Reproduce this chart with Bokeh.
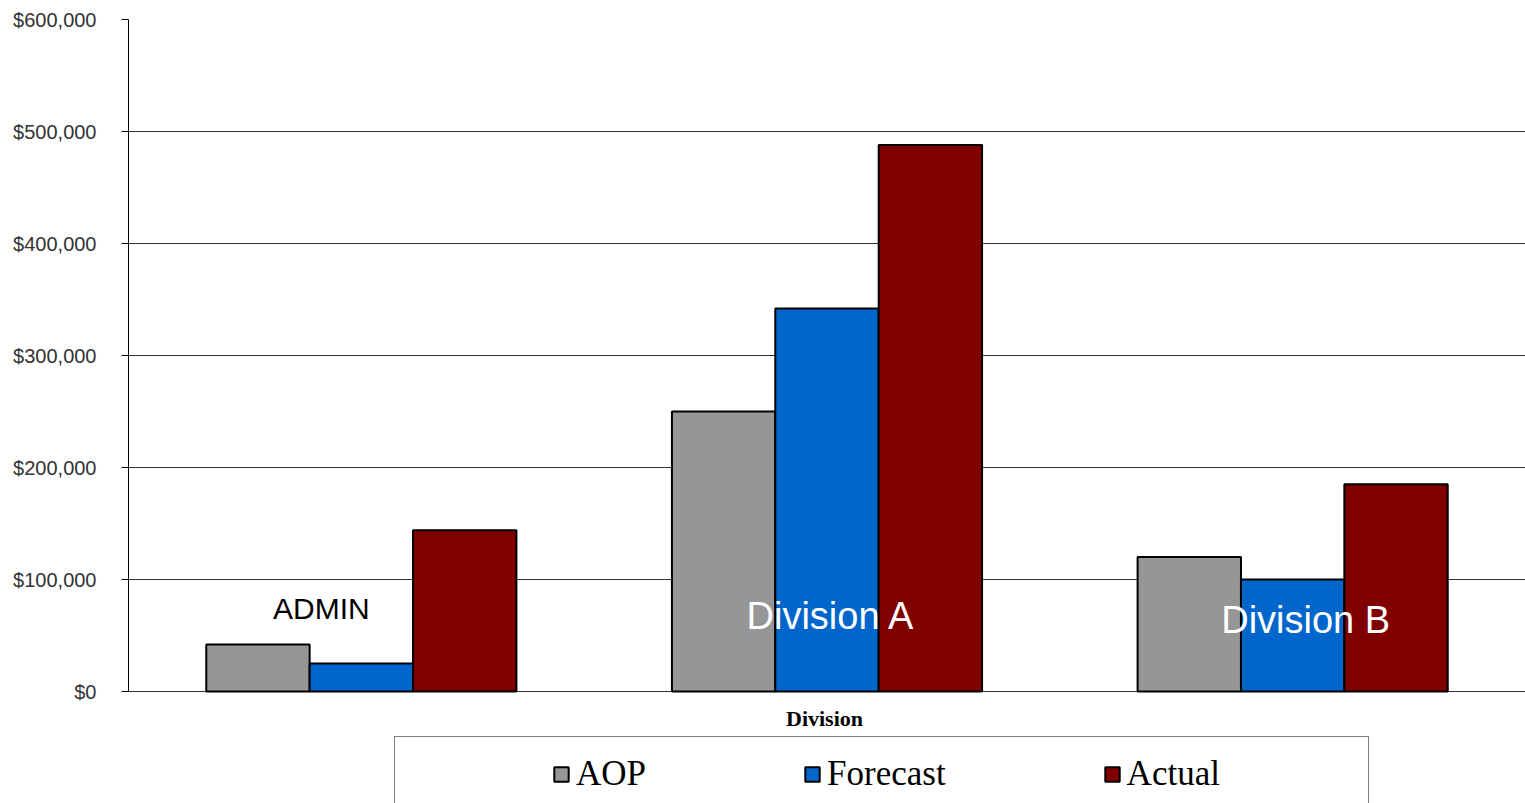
from bokeh.plotting import figure
from bokeh.models import (ColumnDataSource, FactorRange, Range1d, FixedTicker,
                          NumeralTickFormatter, Legend, LegendItem, Label)
from bokeh.transform import dodge
from bokeh.core.properties import value
from bokeh.embed import file_html
from bokeh.resources import INLINE

# ---------------- data ----------------
divisions = ["ADMIN", "Division A", "Division B"]
aop = [42000, 250000, 120000]
forecast = [25000, 342000, 100000]
actual = [144000, 488000, 185000]
y_ticks = [0, 100000, 200000, 300000, 400000, 500000, 600000]
series_names = ["AOP", "Forecast", "Actual"]
x_title = "Division"
# in-plot category label heights (data units)
label_values = [74000, 67400, 63400]

# ---------------- styles ----------------
colors = ["#969696", "#0066CC", "#800000"]
label_colors = ["black", "white", "white"]
label_sizes = ["30px", "38px", "38px"]
label_dx = [-40, 4, 13]  # screen px offsets of the in-plot labels

src = ColumnDataSource(dict(div=divisions, aop=aop, forecast=forecast, actual=actual))

# frame reaches the bottom of the page; the value axis is bounded to 0..600k
p = figure(width=1525, height=803, output_backend="svg", toolbar_location=None,
           x_range=FactorRange(*divisions, range_padding=0),
           y_range=Range1d(-100000, 600000),
           min_border_left=128, min_border_right=0, min_border_top=19,
           min_border_bottom=0)
p.outline_line_color = None
p.background_fill_color = "white"
p.border_fill_color = "white"

bw = 0.222
r_aop = p.vbar(x=dodge("div", -bw, range=p.x_range), top="aop", width=bw, source=src,
               fill_color=colors[0], line_color="black", line_width=2)
r_fc = p.vbar(x=dodge("div", 0, range=p.x_range), top="forecast", width=bw, source=src,
              fill_color=colors[1], line_color="black", line_width=2)
r_ac = p.vbar(x=dodge("div", bw, range=p.x_range), top="actual", width=bw, source=src,
              fill_color=colors[2], line_color="black", line_width=2)

lab_src = ColumnDataSource(dict(x=divisions, y=label_values, text=divisions,
                                color=label_colors, size=label_sizes, dx=label_dx))
p.text(x="x", y="y", text="text", source=lab_src, text_color="color",
       text_font_size="size", x_offset="dx", text_align="center",
       text_baseline="middle", text_font=value("Liberation Sans"))

# axes
p.xaxis.visible = False
p.xgrid.visible = False
yax = p.yaxis[0]
yax.ticker = FixedTicker(ticks=y_ticks)
yax.bounds = (y_ticks[0], y_ticks[-1])
yax.formatter = NumeralTickFormatter(format="$0,0")
yax.major_tick_out = 7
yax.major_tick_in = 0
yax.minor_tick_line_color = None
yax.axis_line_color = "black"
yax.major_tick_line_color = "black"
yax.major_label_standoff = 25
yax.major_label_text_font = "Liberation Sans"
yax.major_label_text_font_size = "20px"
yax.major_label_text_color = "#333333"
p.ygrid.ticker = FixedTicker(ticks=y_ticks)
p.ygrid.bounds = (y_ticks[0], y_ticks[-1])
p.ygrid.grid_line_color = "#333333"
p.ygrid.grid_line_width = 1

p.add_layout(Label(x=696, x_units="screen", y=-24000, text=x_title,
                   text_align="center", text_baseline="middle",
                   text_font="Liberation Serif", text_font_size="22px",
                   text_font_style="bold", text_color="black"))

# legend box (frame only)
dummy = p.vbar(x=[], top=[], width=0.1, fill_alpha=0, line_alpha=0)
box = Legend(items=[LegendItem(label=" ", renderers=[dummy])],
             location=(266, -15), orientation="horizontal", padding=0, margin=0,
             glyph_width=973, glyph_height=80, label_standoff=0, label_width=0,
             label_text_font_size="10px", spacing=0,
             border_line_color="black", border_line_width=1.5,
             background_fill_color="white", background_fill_alpha=1)
p.add_layout(box)

leg = Legend(items=[LegendItem(label=series_names[0], renderers=[r_aop]),
                    LegendItem(label=series_names[1], renderers=[r_fc]),
                    LegendItem(label=series_names[2], renderers=[r_ac])],
             location=(424, 9), orientation="horizontal", padding=0, margin=0,
             glyph_width=18, glyph_height=18, label_standoff=6, spacing=157,
             label_text_font="Liberation Serif", label_text_font_size="35px",
             label_text_color="black",
             border_line_alpha=0, background_fill_alpha=0)
p.add_layout(leg)

open("out.html", "w").write(file_html(p, INLINE))
